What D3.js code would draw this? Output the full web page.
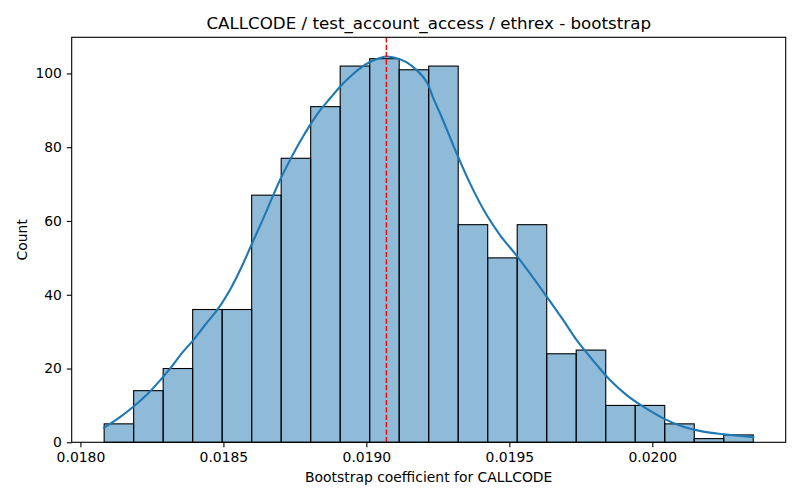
<!DOCTYPE html>
<html><head><meta charset="utf-8">
<script src="https://cdn.jsdelivr.net/npm/d3@7"></script>
<style>body{margin:0;background:#fff}svg{display:block;font-family:"DejaVu Sans",sans-serif}</style>
</head><body><svg id="c" width="800" height="500"></svg>
<script>
// ---- data ----
const titleText = "CALLCODE / test_account_access / ethrex - bootstrap";
const xLabel = "Bootstrap coefficient for CALLCODE";
const yLabel = "Count";
const binLo = 0.018083, binHi = 0.020353;
const counts = [5,14,20,36,36,67,77,91,102,104,101,102,59,50,59,24,25,10,10,5,1,2];
const kdeX = [0.018083,0.0181325,0.0181849,0.0182374,0.0182843,0.0183192,0.0183542,0.0183948,0.0184357,0.0184822,
  0.0185291,0.018564,0.018599,0.0186396,0.0186745,0.018698,0.0187329,0.0187679,0.0188029,0.0188379,
  0.0188728,0.0189078,0.0189428,0.0189777,0.0190127,0.0190477,0.0190711,0.0191061,0.0191411,0.019176,
  0.019211,0.0192341,0.0192575,0.0192691,0.0193159,0.0193624,0.0194208,0.0194673,0.0195233,0.0195722,
  0.0196307,0.0196887,0.0197356,0.0198055,0.019852,0.0199104,0.0199685,0.0200384,0.0201084,0.0201783,
  0.0202483,0.020353];
const kdeY = [4.0,6.5,9.65,13.3,17.3,20.5,24.1,27.7,31.8,36.3,
  42.2,47.6,53.7,60.7,67.0,71.1,76.5,81.5,86.0,90.0,
  93.2,96.4,99.1,101.4,103.1,104.2,104.6,104.1,103.0,100.9,
  97.7,93.3,89.2,87.1,78.3,70.2,61.6,56.2,50.8,45.8,
  39.5,33.1,27.7,21.0,16.9,12.8,9.65,6.5,4.2,2.9,
  2.2,1.4];
const refLine = 0.01907;
const xTicks = [0.0180,0.0185,0.0190,0.0195,0.0200];
const yTicks = [0,20,40,60,80,100];
const yMax = 109.8;

// ---- layout ----
const L = 71.7, R = 785.7, T = 37.3, B = 442.3;
const svg = d3.select("#c");
const pad = (binHi - binLo) * 0.05;
const x = d3.scaleLinear().domain([binLo - pad, binHi + pad]).range([L, R]);
const y = d3.scaleLinear().domain([0, yMax]).range([B, T]);
const bw = (binHi - binLo) / counts.length;
const bins = counts.map((c, i) => ({x0: binLo + i * bw, x1: binLo + (i + 1) * bw, c}));

const g = svg.append("g");
g.selectAll("rect.bar").data(bins).enter().append("rect")
  .attr("class", "bar")
  .attr("x", d => x(d.x0)).attr("width", d => x(d.x1) - x(d.x0))
  .attr("y", d => y(d.c)).attr("height", d => y(0) - y(d.c))
  .attr("fill", "rgba(31,119,180,0.5)")
  .attr("stroke", "#000").attr("stroke-width", 1.1);

const line = d3.line().x((d, i) => x(kdeX[i])).y(d => y(d)).curve(d3.curveCatmullRom.alpha(0.5));
g.append("path").datum(kdeY).attr("d", line)
  .attr("fill", "none").attr("stroke", "#1f77b4").attr("stroke-width", 2.1)
  .attr("stroke-linecap", "square");

g.append("line").attr("x1", x(refLine)).attr("x2", x(refLine)).attr("y1", T).attr("y2", B)
  .attr("stroke", "red").attr("stroke-width", 1.4).attr("stroke-dasharray", "5.2,2.2");

// axes
const xAxis = d3.axisBottom(x).tickValues(xTicks).tickFormat(d3.format(".4f")).tickSize(4.9).tickPadding(4.9);
const yAxis = d3.axisLeft(y).tickValues(yTicks).tickFormat(d3.format("d")).tickSize(4.9).tickPadding(4.9);
const gx = svg.append("g").attr("transform", `translate(0,${B})`).call(xAxis);
const gy = svg.append("g").attr("transform", `translate(${L},0)`).call(yAxis);
[gx, gy].forEach(a => {
  a.select(".domain").remove();
  a.selectAll(".tick line").attr("stroke", "#000").attr("stroke-width", 1.1);
  a.selectAll(".tick text").attr("fill", "#000").style("font-size", "13.9px").style("font-family", "DejaVu Sans");
});

// frame
svg.append("rect").attr("x", L).attr("y", T).attr("width", R - L).attr("height", B - T)
  .attr("fill", "none").attr("stroke", "#000").attr("stroke-width", 1.1);

// texts
svg.append("text").attr("x", (L + R) / 2).attr("y", 29).attr("text-anchor", "middle")
  .style("font-size", "16.7px").attr("fill", "#000").text(titleText);
svg.append("text").attr("x", (L + R) / 2).attr("y", 482).attr("text-anchor", "middle")
  .style("font-size", "13.9px").attr("fill", "#000").text(xLabel);
svg.append("text").attr("transform", `translate(27,${(T + B) / 2}) rotate(-90)`).attr("text-anchor", "middle")
  .style("font-size", "13.9px").attr("fill", "#000").text(yLabel);
</script></body></html>
